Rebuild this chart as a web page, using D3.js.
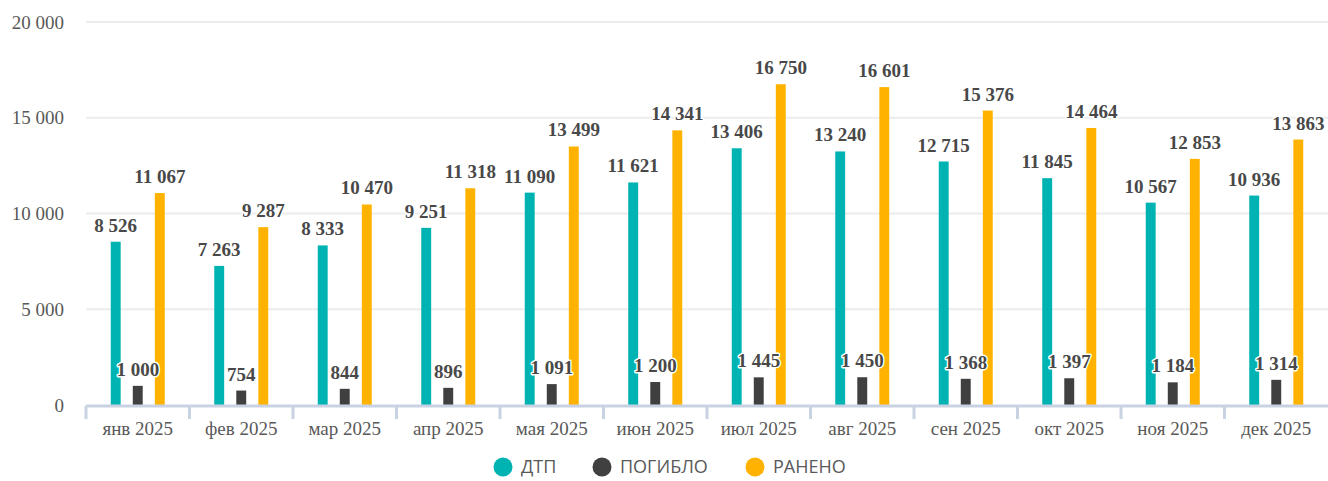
<!DOCTYPE html>
<html>
<head>
<meta charset="utf-8">
<script src="https://cdn.jsdelivr.net/npm/d3@7"></script>
<style>
  body { margin: 0; background: #fff; }
  svg { display: block; }
</style>
</head>
<body>
<div id="chart"></div>
<script>
var months = ["янв 2025", "фев 2025", "мар 2025", "апр 2025", "мая 2025", "июн 2025",
              "июл 2025", "авг 2025", "сен 2025", "окт 2025", "ноя 2025", "дек 2025"];
var seriesNames = ["ДТП", "ПОГИБЛО", "РАНЕНО"];
var dtp     = [8526, 7263, 8333, 9251, 11090, 11621, 13406, 13240, 12715, 11845, 10567, 10936];
var pogiblo = [1000, 754, 844, 896, 1091, 1200, 1445, 1450, 1368, 1397, 1184, 1314];
var raneno  = [11067, 9287, 10470, 11318, 13499, 14341, 16750, 16601, 15376, 14464, 12853, 13863];
var yTicks  = [0, 5000, 10000, 15000, 20000];

var width = 1328, height = 481;
var colors = ["#00B3B3", "#404040", "#FFB300"];
var margin = {left: 86, right: 0, top: 22, bottom: 76};

var svg = d3.select("#chart").append("svg")
    .attr("width", width)
    .attr("height", height);

var x = d3.scaleBand()
    .domain(months)
    .range([margin.left, width - margin.right]);

var xs = d3.scaleBand()
    .domain(seriesNames)
    .range([x.bandwidth() / 2 - 27, x.bandwidth() / 2 + 27])
    .paddingInner(0.55);

var y = d3.scaleLinear()
    .domain([0, 20000])
    .range([height - margin.bottom, margin.top]);

var fmt = function(v) { return d3.format(",")(v).replace(/,/g, " "); };

// gridlines
svg.append("g")
    .selectAll("line")
    .data(yTicks.slice(1))
    .enter().append("line")
    .attr("x1", margin.left)
    .attr("x2", width)
    .attr("y1", function(d) { return y(d); })
    .attr("y2", function(d) { return y(d); })
    .attr("stroke", "#ececec")
    .attr("stroke-width", 2);

// y tick labels
svg.append("g")
    .selectAll("text")
    .data(yTicks)
    .enter().append("text")
    .attr("x", 64)
    .attr("y", function(d) { return y(d); })
    .attr("dy", "0.35em")
    .attr("text-anchor", "end")
    .attr("font-family", "'Liberation Serif', serif")
    .attr("font-size", 19)
    .attr("fill", "#595959")
    .text(fmt);

var data = months.map(function(m, i) {
    return {month: m, values: [dtp[i], pogiblo[i], raneno[i]]};
});

var groups = svg.append("g")
    .selectAll("g")
    .data(data)
    .enter().append("g")
    .attr("transform", function(d) { return "translate(" + x(d.month) + ",0)"; });

groups.selectAll("rect")
    .data(function(d) { return d.values.map(function(v, j) { return {s: seriesNames[j], v: v, j: j}; }); })
    .enter().append("rect")
    .attr("x", function(d) { return xs(d.s); })
    .attr("width", xs.bandwidth())
    .attr("y", function(d) { return y(d.v); })
    .attr("height", function(d) { return y(0) - y(d.v); })
    .attr("fill", function(d) { return colors[d.j]; });

groups.selectAll("text")
    .data(function(d) { return d.values.map(function(v, j) { return {s: seriesNames[j], v: v, j: j}; }); })
    .enter().append("text")
    .attr("x", function(d) { return xs(d.s) + xs.bandwidth() / 2; })
    .attr("y", function(d) { return y(d.v) - 10; })
    .attr("text-anchor", "middle")
    .attr("font-family", "'Liberation Serif', serif")
    .attr("font-weight", "bold")
    .attr("font-size", 19)
    .attr("fill", "#484848")
    .attr("stroke", "#fff")
    .attr("stroke-width", 3)
    .attr("paint-order", "stroke")
    .attr("stroke-linejoin", "round")
    .text(function(d) { return fmt(d.v); });

// x axis
var axisY = y(0) + 1;
svg.append("line")
    .attr("x1", margin.left)
    .attr("x2", width)
    .attr("y1", axisY)
    .attr("y2", axisY)
    .attr("stroke", "#c9d2e3")
    .attr("stroke-width", 3);

svg.append("g")
    .selectAll("line")
    .data(months)
    .enter().append("line")
    .attr("x1", function(d) { return x(d); })
    .attr("x2", function(d) { return x(d); })
    .attr("y1", axisY)
    .attr("y2", axisY + 13)
    .attr("stroke", "#c9d2e3")
    .attr("stroke-width", 3);

svg.append("g")
    .selectAll("text")
    .data(months)
    .enter().append("text")
    .attr("x", function(d) { return x(d) + x.bandwidth() / 2; })
    .attr("y", 435)
    .attr("text-anchor", "middle")
    .attr("font-family", "'Liberation Serif', serif")
    .attr("font-size", 19)
    .attr("fill", "#595959")
    .text(function(d) { return d; });

// legend
var legendX = [503, 602, 755];
var legend = svg.append("g")
    .selectAll("g")
    .data(seriesNames)
    .enter().append("g")
    .attr("transform", function(d, i) { return "translate(" + legendX[i] + ",467)"; });

legend.append("circle")
    .attr("r", 9.5)
    .attr("fill", function(d, i) { return colors[i]; });

legend.append("text")
    .attr("x", 18)
    .attr("dy", "0.35em")
    .attr("font-family", "'Open Sans', sans-serif")
    .attr("font-size", 18)
    .attr("fill", "#595959")
    .text(function(d) { return d; });
</script>
</body>
</html>
